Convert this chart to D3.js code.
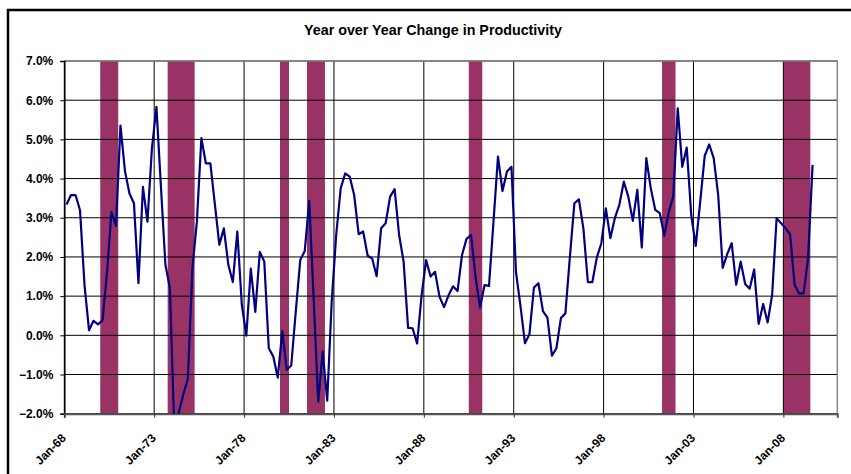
<!DOCTYPE html>
<html>
<head>
<meta charset="utf-8">
<script src="https://cdn.jsdelivr.net/npm/d3@7"></script>
<style>
  html, body { margin: 0; padding: 0; background: #fff; }
  svg { display: block; font-family: "Liberation Sans", Arial, sans-serif; }
</style>
</head>
<body>
<svg id="chart" width="851" height="474"></svg>
<script>
// Year-over-year % change in productivity, quarterly from 1968Q1
const startYear = 1968;
const lastQuarterYear = 2010; // axis runs through 2010Q4
const productivity = [
  3.34, 3.58, 3.58, 3.19, 1.28, 0.13, 0.37, 0.28, 0.38, 1.60,
  3.15, 2.79, 5.35, 4.19, 3.62, 3.37, 1.33, 3.79, 2.90, 4.77,
  5.83, 3.80, 1.80, 1.20, -2.50, -1.95, -1.50, -1.10, 1.70, 2.90,
  5.03, 4.39, 4.39, 3.35, 2.31, 2.73, 1.80, 1.36, 2.65, 0.78,
  -0.01, 1.70, 0.60, 2.13, 1.88, -0.33, -0.54, -1.08, 0.11, -0.88,
  -0.77, 0.60, 1.92, 2.15, 3.43, 0.90, -1.69, -0.41, -1.67, 0.86,
  2.56, 3.75, 4.13, 4.05, 3.58, 2.58, 2.65, 2.03, 1.96, 1.51,
  2.73, 2.86, 3.54, 3.73, 2.56, 1.88, 0.19, 0.18, -0.21, 1.02,
  1.92, 1.50, 1.62, 0.98, 0.72, 1.02, 1.25, 1.13, 2.05, 2.46,
  2.56, 1.50, 0.71, 1.28, 1.26, 2.90, 4.56, 3.68, 4.18, 4.30,
  1.62, 0.75, -0.20, 0.03, 1.22, 1.33, 0.62, 0.45, -0.52, -0.33,
  0.44, 0.56, 2.00, 3.37, 3.47, 2.73, 1.36, 1.36, 1.99, 2.35,
  3.24, 2.48, 2.99, 3.33, 3.92, 3.54, 2.92, 3.71, 2.24, 4.52,
  3.75, 3.20, 3.12, 2.54, 3.15, 3.54, 5.79, 4.30, 4.79, 3.07,
  2.28, 3.41, 4.58, 4.87, 4.52, 3.58, 1.72, 2.07, 2.35, 1.29,
  1.88, 1.31, 1.19, 1.68, 0.29, 0.80, 0.33, 1.03, 2.99, 2.86,
  2.73, 2.58, 1.29, 1.07, 1.07, 1.97, 4.35
];
// Recession periods (first and last quarter shaded)
const recessions = [
  ["1970Q1", "1970Q4"],
  ["1973Q4", "1975Q1"],
  ["1980Q1", "1980Q2"],
  ["1981Q3", "1982Q2"],
  ["1990Q3", "1991Q1"],
  ["2001Q2", "2001Q4"],
  ["2008Q1", "2009Q2"]
];
const tickLabels = ["Jan-68", "Jan-73", "Jan-78", "Jan-83", "Jan-88", "Jan-93", "Jan-98", "Jan-03", "Jan-08"];
const yTicks = [-2, -1, 0, 1, 2, 3, 4, 5, 6, 7];

// quarter label -> index from the first quarter
const qIndex = q => (+q.slice(0, 4) - startYear) * 4 + (+q.slice(5) - 1);
const nQuarters = (lastQuarterYear - startYear + 1) * 4;

const svg = d3.select("#chart");
const plot = { left: 64.3, right: 837.3, top: 61, bottom: 413.7 };

const x = d3.scaleLinear().domain([0, nQuarters]).range([plot.left, plot.right]);
const y = d3.scaleLinear().domain([-2, 7]).range([plot.bottom, plot.top]);

// outer frame
svg.append("rect")
  .attr("x", 8).attr("y", 10).attr("width", 900).attr("height", 500)
  .attr("fill", "#fff").attr("stroke", "#000").attr("stroke-width", 2.5);

// title
svg.append("text")
  .attr("x", 433).attr("y", 35)
  .attr("text-anchor", "middle")
  .attr("font-size", "14.3px").attr("font-weight", "bold")
  .text("Year over Year Change in Productivity");

// recession shading
svg.append("g").selectAll("rect")
  .data(recessions)
  .join("rect")
  .attr("x", d => x(qIndex(d[0])))
  .attr("width", d => x(qIndex(d[1]) + 1) - x(qIndex(d[0])))
  .attr("y", plot.top)
  .attr("height", plot.bottom - plot.top)
  .attr("fill", "#993366");

// horizontal gridlines
svg.append("g").selectAll("line")
  .data(yTicks)
  .join("line")
  .attr("x1", plot.left).attr("x2", plot.right)
  .attr("y1", d => y(d)).attr("y2", d => y(d))
  .attr("stroke", "#000").attr("stroke-width", 1);

// vertical gridlines at each label
const tickIdx = tickLabels.map((_, i) => i * 20);
svg.append("g").selectAll("line")
  .data(tickIdx)
  .join("line")
  .attr("x1", d => x(d)).attr("x2", d => x(d))
  .attr("y1", plot.top).attr("y2", plot.bottom)
  .attr("stroke", "#000").attr("stroke-width", 1);

// plot area top/right border
svg.append("path")
  .attr("d", `M${plot.left},${plot.top}H${plot.right}V${plot.bottom}`)
  .attr("fill", "none").attr("stroke", "#888").attr("stroke-width", 1.5);

// y axis
const yAxis = d3.axisLeft(y)
  .tickValues(yTicks)
  .tickSize(4)
  .tickPadding(7)
  .tickFormat(d => d3.format(".1%")(d / 100));
const gy = svg.append("g")
  .attr("transform", `translate(${plot.left},0)`)
  .call(yAxis);
gy.select(".domain").attr("stroke", "#000").attr("stroke-width", 1.5);
gy.selectAll(".tick line").attr("stroke", "#000");
gy.selectAll("text")
  .attr("font-size", "12px").attr("font-weight", "bold")
  .attr("font-family", "Liberation Sans, Arial, sans-serif")
  .attr("fill", "#000");

// x axis
const xAxis = d3.axisBottom(x)
  .tickValues(tickIdx)
  .tickSize(4)
  .tickFormat((d, i) => tickLabels[i]);
const gx = svg.append("g")
  .attr("transform", `translate(0,${plot.bottom})`)
  .call(xAxis);
gx.select(".domain").attr("stroke", "#555").attr("stroke-width", 2);
gx.selectAll(".tick line").attr("stroke", "#333");
gx.selectAll("text")
  .attr("font-size", "12px").attr("font-weight", "bold")
  .attr("font-family", "Liberation Sans, Arial, sans-serif")
  .attr("fill", "#000")
  .attr("text-anchor", "end")
  .attr("x", 0).attr("y", 0).attr("dy", 0)
  .attr("transform", "translate(2,25) rotate(-45)");

// productivity line
svg.append("clipPath").attr("id", "plotClip")
  .append("rect")
  .attr("x", plot.left).attr("y", plot.top)
  .attr("width", plot.right - plot.left).attr("height", plot.bottom - plot.top);

const line = d3.line()
  .x((d, i) => x(i + 0.5))
  .y(d => y(d));

svg.append("path")
  .datum(productivity)
  .attr("clip-path", "url(#plotClip)")
  .attr("d", line)
  .attr("fill", "none")
  .attr("stroke", "#000080")
  .attr("stroke-width", 2.2)
  .attr("stroke-linejoin", "round");
</script>
</body>
</html>
